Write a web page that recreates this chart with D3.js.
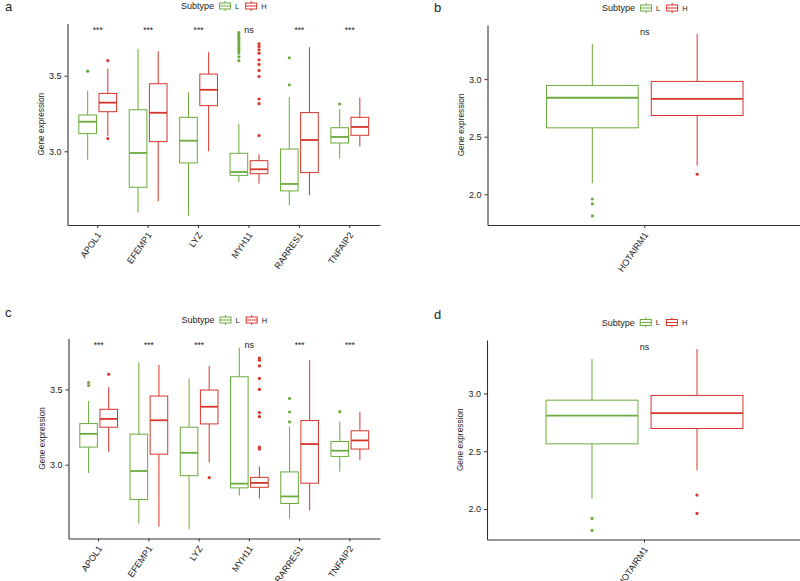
<!DOCTYPE html>
<html><head><meta charset="utf-8">
<script src="https://cdn.jsdelivr.net/npm/d3@7"></script>
<style>
body{margin:0;background:#fff}
svg{display:block}
text{font-family:"Liberation Sans",Arial,sans-serif}
</style>
</head><body>
<svg id="chart" width="800" height="581"></svg>
<script>
// ---------- data ----------
const genes = ["APOL1","EFEMP1","LYZ","MYH11","RARRES1","TNFAIP2"];
const lncGenes = ["HOTAIRM1"];
const subtypes = ["L","H"];
// five numbers per box: [whisker low, Q1, median, Q3, whisker high]
const aL = [[2.945,3.117,3.196,3.240,3.400],[2.595,2.762,2.989,3.275,3.678],[2.573,2.923,3.070,3.225,3.390],[2.797,2.841,2.863,2.987,3.183],[2.643,2.738,2.784,3.015,3.359],[2.952,3.055,3.095,3.156,3.280]];
const aH = [[3.100,3.262,3.322,3.383,3.546],[2.670,3.064,3.255,3.447,3.663],[3.000,3.302,3.407,3.511,3.656],[2.786,2.852,2.881,2.938,2.980],[2.709,2.859,3.075,3.256,3.689],[3.033,3.106,3.161,3.225,3.355]];
const aLout = [[3.53],[],[],[3.785,3.77,3.755,3.74,3.725,3.71,3.695,3.68,3.665,3.65,3.625,3.60],[3.619,3.44],[3.313]];
const aHout = [[3.60,3.084],[],[],[3.711,3.693,3.672,3.649,3.605,3.575,3.535,3.495,3.346,3.315,3.104],[],[]];
const aSig = ["***","***","***","ns","***","***"];

const bL = [[2.096,2.577,2.838,2.945,3.307]];
const bH = [[2.249,2.684,2.829,2.980,3.391]];
const bLout = [[1.959,1.916,1.812]];
const bHout = [[2.174]];
const bSig = ["ns"];

const cL = [[2.945,3.117,3.205,3.273,3.423],[2.608,2.769,2.958,3.203,3.680],[2.570,2.927,3.079,3.249,3.573],[2.795,2.846,2.874,3.584,3.778],[2.641,2.742,2.789,2.952,3.253],[2.954,3.055,3.093,3.154,3.286]];
const cH = [[3.084,3.249,3.304,3.368,3.515],[2.588,3.070,3.295,3.456,3.663],[3.015,3.271,3.385,3.496,3.656],[2.775,2.850,2.879,2.916,2.989],[2.696,2.877,3.137,3.293,3.694],[3.029,3.104,3.161,3.225,3.352]];
const cLout = [[3.546,3.526],[],[],[],[3.44,3.35,3.284],[3.352]];
const cHout = [[3.601],[],[2.914],[3.709,3.694,3.656,3.573,3.50,3.346,3.319,3.117,3.104],[],[]];
const cSig = ["***","***","***","ns","***","***"];

const dL = [[2.090,2.564,2.809,2.942,3.298]];
const dH = [[2.335,2.697,2.829,2.983,3.384]];
const dLout = [[1.919,1.815]];
const dHout = [[2.121,1.962]];
const dSig = ["ns"];

const yTicksTop = [3.0, 3.5];
const yTicksLnc = [2.0, 2.5, 3.0];
const legendTitle = "Subtype";
const yTitle = "Gene expression";

// ---------- styling / layout ----------
const colors = {L: "#6aab3c", H: "#d8342a"};
const panels = [
  {tag:"a", cats:genes, L:aL, H:aH, Lout:aLout, Hout:aHout, sig:aSig, ticks:yTicksTop,
   x0:67.5, x1:380, y0:23.5, y1:225, tagX:5, tagY:11, legY:6},
  {tag:"b", cats:lncGenes, L:bL, H:bH, Lout:bLout, Hout:bHout, sig:bSig, ticks:yTicksLnc,
   x0:487.5, x1:802, y0:25, y1:225, tagX:434, tagY:12, legY:8},
  {tag:"c", cats:genes, L:cL, H:cH, Lout:cLout, Hout:cHout, sig:cSig, ticks:yTicksTop,
   x0:68.5, x1:380, y0:338.5, y1:538.5, tagX:5, tagY:317, legY:320},
  {tag:"d", cats:lncGenes, L:dL, H:dH, Lout:dLout, Hout:dHout, sig:dSig, ticks:yTicksLnc,
   x0:487, x1:802, y0:340, y1:539.5, tagX:434, tagY:318.5, legY:322.5}
];

const svg = d3.select("#chart");

panels.forEach(p => {
  const g = svg.append("g");
  // y domain from data with 5% expansion (ggplot style)
  const all = [];
  ["L","H"].forEach(s => {
    p[s].forEach(b => all.push(b[0], b[4]));
    p[s+"out"].forEach(o => all.push(...o));
  });
  const [mn, mx] = d3.extent(all);
  const pad = (mx - mn) * 0.05;
  const y = d3.scaleLinear().domain([mn - pad, mx + pad]).range([p.y1, p.y0]);
  const x = d3.scaleBand().domain(p.cats).range([p.x0, p.x1]).paddingInner(0).paddingOuter(0.1);
  const step = x.step();
  const xs = d3.scaleBand().domain(subtypes).range([-0.4*step, 0.4*step]);
  const bw = xs.bandwidth() * 0.875;

  // boxes
  subtypes.forEach(s => {
    p.cats.forEach((c, i) => {
      const b = p[s][i];
      const cx = x(c) + step/2 + xs(s) + xs.bandwidth()/2;
      const col = colors[s];
      g.append("line").attr("x1", cx).attr("x2", cx).attr("y1", y(b[3])).attr("y2", y(b[4]))
        .attr("stroke", col).attr("stroke-width", 1);
      g.append("line").attr("x1", cx).attr("x2", cx).attr("y1", y(b[1])).attr("y2", y(b[0]))
        .attr("stroke", col).attr("stroke-width", 1);
      g.append("rect").attr("x", cx - bw/2).attr("width", bw)
        .attr("y", y(b[3])).attr("height", y(b[1]) - y(b[3]))
        .attr("fill", "#fff").attr("stroke", col).attr("stroke-width", 1);
      g.append("line").attr("x1", cx - bw/2).attr("x2", cx + bw/2)
        .attr("y1", y(b[2])).attr("y2", y(b[2])).attr("stroke", col).attr("stroke-width", 1.8);
      p[s+"out"][i].forEach(v => {
        g.append("circle").attr("cx", cx).attr("cy", y(v)).attr("r", 1.6).attr("fill", col);
      });
    });
  });

  // significance labels
  p.cats.forEach((c, i) => {
    g.append("text").attr("x", x(c) + step/2).attr("y", p.y0 + 9.5)
      .attr("text-anchor", "middle").attr("font-size", p.sig[i] === "ns" ? 9 : 8.5)
      .attr("fill", "#222").text(p.sig[i]);
  });

  // axes
  const ya = g.append("g").attr("transform", `translate(${p.x0},0)`)
    .call(d3.axisLeft(y).tickValues(p.ticks).tickFormat(d3.format(".1f")).tickSize(3).tickSizeOuter(0));
  ya.select(".domain").attr("stroke", "#333").attr("stroke-width", 1.1);
  ya.selectAll(".tick line").attr("stroke", "#333");
  ya.selectAll(".tick text").attr("font-size", 9).attr("fill", "#222")
    .attr("font-family", "Liberation Sans, Arial, sans-serif");

  const xa = g.append("g").attr("transform", `translate(0,${p.y1})`)
    .call(d3.axisBottom(x).tickSize(3).tickSizeOuter(0));
  xa.select(".domain").attr("stroke", "#333").attr("stroke-width", 1.1);
  xa.selectAll(".tick line").attr("stroke", "#333");
  xa.selectAll(".tick text").attr("font-size", 9).attr("fill", "#222")
    .attr("font-family", "Liberation Sans, Arial, sans-serif")
    .attr("text-anchor", "end").attr("y", 0).attr("dy", 0)
    .attr("transform", "translate(4,10) rotate(-55)");

  // y title
  g.append("text").attr("transform", `translate(${p.x0 - 24},${(p.y0 + p.y1)/2}) rotate(-90)`)
    .attr("text-anchor", "middle").attr("font-size", 8.3).attr("fill", "#222").text(yTitle);

  // panel tag
  g.append("text").attr("x", p.tagX).attr("y", p.tagY)
    .attr("font-family", "Liberation Serif, Times New Roman, serif").attr("font-size", 13)
    .attr("fill", "#222").text(p.tag);

  // legend (centered above the panel)
  const lg = g.append("g");
  const items = [];
  let cur = 0;
  const tt = lg.append("text").attr("x", 0).attr("y", p.legY + 3.2).attr("font-size", 9)
    .attr("fill", "#222").text(legendTitle);
  cur = tt.node().getComputedTextLength() + 5;
  subtypes.forEach(s => {
    const col = colors[s];
    const kx = cur, kw = 12;
    lg.append("line").attr("x1", kx + kw/2).attr("x2", kx + kw/2).attr("y1", p.legY - 5).attr("y2", p.legY + 5)
      .attr("stroke", col).attr("stroke-width", 1);
    lg.append("rect").attr("x", kx + 0.5).attr("y", p.legY - 3).attr("width", kw - 1).attr("height", 6)
      .attr("fill", "#fff").attr("stroke", col).attr("stroke-width", 1);
    lg.append("line").attr("x1", kx + 0.5).attr("x2", kx + kw - 0.5).attr("y1", p.legY).attr("y2", p.legY)
      .attr("stroke", col).attr("stroke-width", 1);
    const t = lg.append("text").attr("x", kx + kw + 4).attr("y", p.legY + 2.8).attr("font-size", 7.5)
      .attr("fill", "#222").text(s);
    cur = kx + kw + 4 + t.node().getComputedTextLength() + 6;
  });
  const total = cur - 6;
  lg.attr("transform", `translate(${(p.x0 + p.x1)/2 - total/2},0)`);
});
</script>
</body></html>
